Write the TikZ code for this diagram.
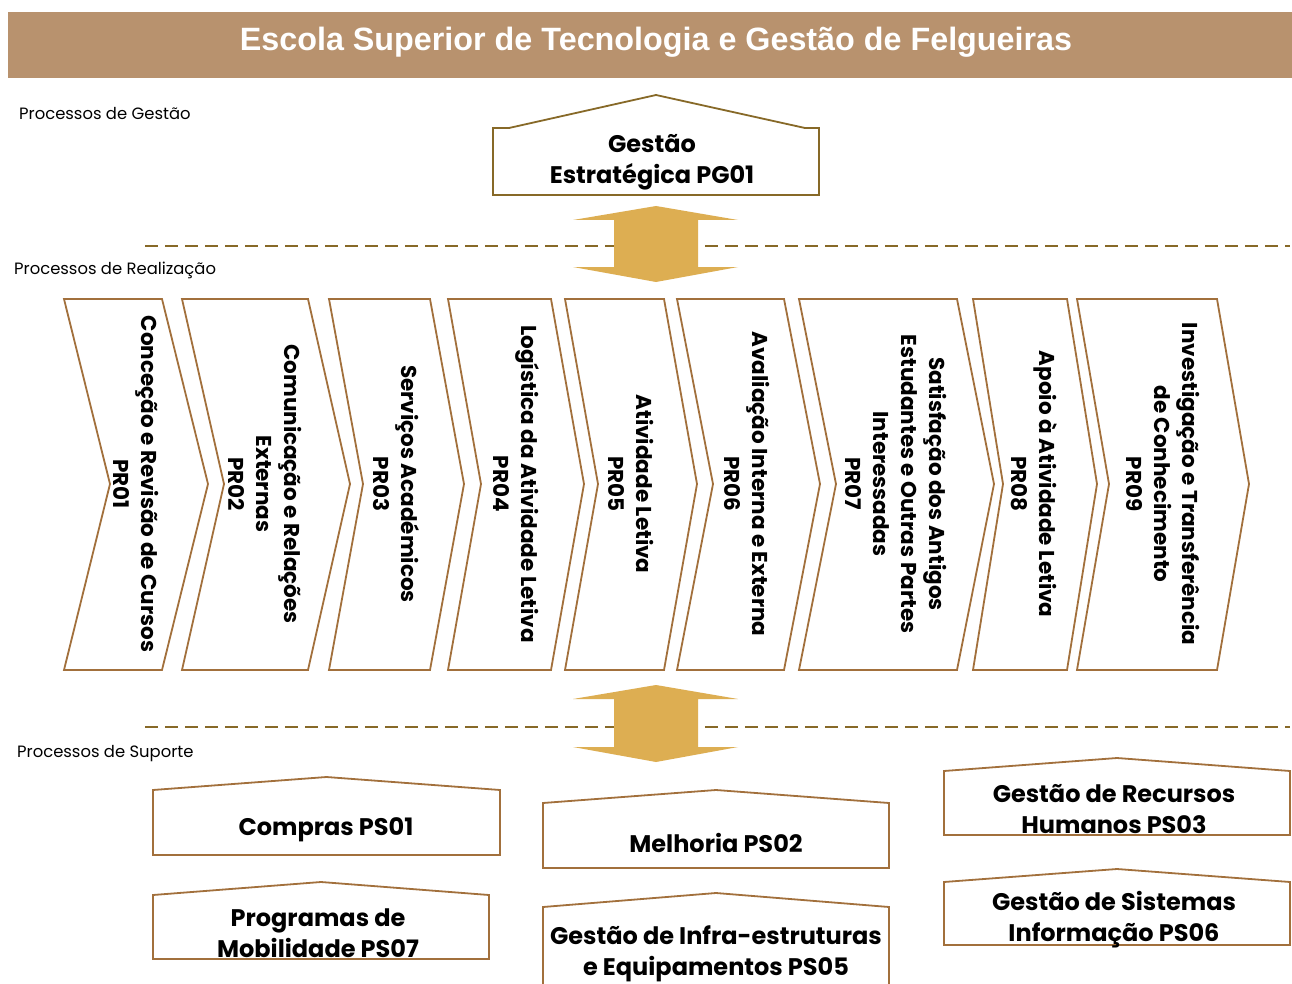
\documentclass[tikz,border=0pt]{standalone}
\usepackage{fontspec}
\setmainfont{Poppins}
\newfontfamily\titlefont{Liberation Sans}
\usetikzlibrary{shapes}

\definecolor{bandtan}{RGB}{184,146,110}
\definecolor{arrowgold}{RGB}{221,174,82}
\definecolor{olivebrown}{RGB}{135,105,40}
\definecolor{rustbrown}{RGB}{162,112,60}

\tikzset{
  chevbox/.style={draw=rustbrown, line width=1.8pt, line join=miter, fill=white},
  housebox/.style={draw=rustbrown, line width=1.8pt, fill=white},
  chevtext/.style={font=\bfseries\fontsize{21.5}{28}\selectfont, rotate=-90, align=center, inner sep=0pt},
  boxtext/.style={font=\bfseries\fontsize{24}{31}\selectfont, align=center, inner sep=0pt},
  sectlabel/.style={font=\fontsize{16.4}{18}\selectfont, anchor=west, inner sep=0pt},
  sepline/.style={draw=olivebrown, line width=2pt, dash pattern=on 13pt off 7pt},
  bothways/.style={fill=arrowgold}
}

\newcommand{\chevron}[3]{\draw[chevbox] (#1,299) -- (#2,299) -- (#2+#3,484) -- (#2,670) -- (#1,670) -- (#1+#3,484) -- cycle;}
\newcommand{\roofbox}[5]{\draw[housebox] (#1,#5) -- (#1,#3) -- ({(#1+#2)/2},#4) -- (#2,#3) -- (#2,#5) -- cycle;}
\newcommand{\updown}[2]{\fill[bothways] (656,#1) -- (738,#1+14) -- (698,#1+14) -- (698,#2-15) -- (738,#2-15) -- (656,#2) -- (573,#2-15) -- (614,#2-15) -- (614,#1+14) -- (573,#1+14) -- cycle;}

\begin{document}
\begin{tikzpicture}[x=1pt,y=-1pt]
\clip (0,0) rectangle (1292,984);
\fill[white] (0,0) rectangle (1292,984);
\fill[bandtan] (8,12) rectangle (1292,78);
\node[font=\titlefont\bfseries\fontsize{32.3}{36}\selectfont, text=white, anchor=base] (title) at (656,51) {Escola Superior de Tecnologia e Gestão de Felgueiras};

\node[sectlabel] (lblgestao) at (19,114) {Processos de Gestão};
\node[sectlabel] (lblrealizacao) at (14,270) {Processos de Realização};
\node[sectlabel] (lblsuporte) at (17,754) {Processos de Suporte};

\draw[draw=olivebrown, line width=1.8pt, fill=white] (493,195) -- (493,128) -- (509,128) -- (656,95) -- (805,128) -- (819,128) -- (819,195) -- cycle;
\node[boxtext] (pg01) at (652,162) {Gestão\\Estratégica PG01};

\draw[sepline] (145,246) -- (1290,246);
\draw[sepline] (145,727) -- (1290,727);
\updown{206}{282}
\updown{685}{762}

\chevron{64}{162}{46}
\chevron{182}{308}{42}
\chevron{329}{430}{34}
\chevron{448}{551}{33}
\chevron{565}{664}{33}
\chevron{677}{784}{36}
\chevron{799}{957}{37}
\chevron{973}{1067}{30}
\chevron{1077}{1217}{32}

\node[chevtext] (pr01) at (136,484) {Conceção e Revisão de Cursos\\PR01};
\node[chevtext] (pr02) at (265,484) {Comunicação e Relações\\Externas\\PR02};
\node[chevtext] (pr03) at (396,484) {Serviços Académicos\\PR03};
\node[chevtext] (pr04) at (516,484) {Logística da Atividade Letiva\\PR04};
\node[chevtext] (pr05) at (631,484) {Atividade Letiva\\PR05};
\node[chevtext] (pr06) at (747,484) {Avaliação Interna e Externa\\PR06};
\node[chevtext] (pr07) at (896,484) {Satisfação dos Antigos\\Estudantes e Outras Partes\\Interessadas\\PR07};
\node[chevtext] (pr08) at (1034,484) {Apoio à Atividade Letiva\\PR08};
\node[chevtext] (pr09) at (1163,484) {Investigação e Transferência\\de Conhecimento\\PR09};

\roofbox{153}{500}{790}{777}{855}
\roofbox{543}{889}{803}{790}{868}
\roofbox{944}{1290}{771}{758}{835}
\roofbox{153}{489}{895}{882}{959}
\roofbox{543}{889}{907}{893}{1000}
\roofbox{944}{1290}{882}{869}{945}

\node[boxtext] (ps01) at (326,830) {Compras PS01};
\node[boxtext] (ps02) at (716,843) {Melhoria PS02};
\node[boxtext] (ps03) at (1114,809) {Gestão de Recursos\\Humanos PS03};
\node[boxtext] (ps07) at (318,933) {Programas de\\Mobilidade PS07};
\node[boxtext] (ps05) at (716,954) {Gestão de Infra-estruturas\\e Equipamentos PS05};
\node[boxtext] (ps06) at (1114,920) {Gestão de Sistemas\\Informação PS06};
\end{tikzpicture}
\end{document}
